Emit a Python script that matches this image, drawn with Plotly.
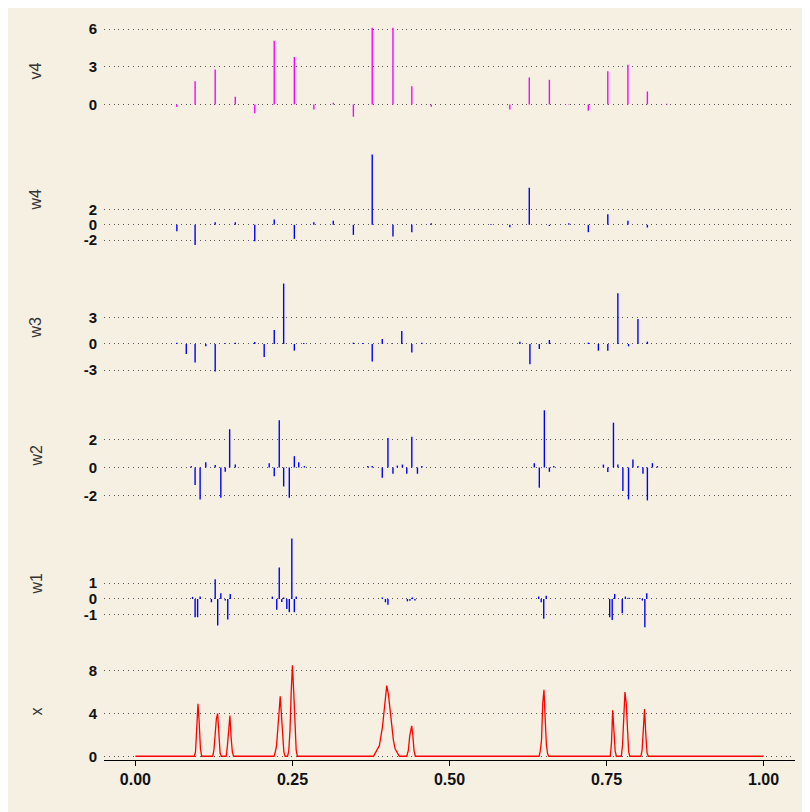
import plotly.graph_objects as go

# ---------------- data ----------------
V4_X = [0.066, 0.095, 0.127, 0.159, 0.190, 0.221, 0.253, 0.284, 0.315, 0.347, 0.377, 0.410,
        0.440, 0.471, 0.596, 0.627, 0.659, 0.690, 0.721, 0.752, 0.784, 0.815, 0.846]
V4_V = [-0.2, 1.85, 2.78, 0.61, -0.71, 5.07, 3.78, -0.4, 0.13, -0.98, 6.1, 6.1,
        1.45, -0.18, -0.4, 2.14, 1.96, -0.05, -0.5, 2.64, 3.15, 1.03, 0.05]

W4_X = [0.066, 0.095, 0.127, 0.159, 0.190, 0.221, 0.253, 0.284, 0.315, 0.347, 0.377, 0.410,
        0.440, 0.471, 0.566, 0.596, 0.627, 0.659, 0.690, 0.721, 0.752, 0.784, 0.815]
W4_V = [-0.83, -2.63, 0.35, 0.35, -2.15, 0.7, -1.84, 0.35, 0.53, -1.32, 9.25, -1.54,
        -0.96, 0.2, 0.1, -0.3, 4.87, -0.15, 0.2, -0.96, 1.4, 0.53, -0.35]

W3_X = [0.066, 0.081, 0.095, 0.112, 0.127, 0.143, 0.159, 0.190, 0.205, 0.221, 0.236, 0.253,
        0.268, 0.347, 0.362, 0.377, 0.393, 0.408, 0.424, 0.440, 0.456, 0.612, 0.628, 0.643,
        0.659, 0.721, 0.737, 0.752, 0.768, 0.785, 0.800, 0.815]
W3_V = [0.15, -1.15, -2.14, -0.27, -3.17, 0.08, 0.15, 0.23, -1.49, 1.6, 6.95, -0.77,
        0.1, 0.15, 0.1, -2.02, 0.57, 0.05, 1.49, -0.99, 0.15, 0.27, -2.33, -0.58,
        0.46, 0.15, -0.77, -0.77, 5.84, -0.27, 2.86, 0.27]

W2_X = [0.089, 0.095, 0.103, 0.112, 0.127, 0.136, 0.143, 0.150, 0.159,
        0.213, 0.221, 0.229, 0.236, 0.245, 0.253, 0.260, 0.269,
        0.370, 0.377, 0.393, 0.402, 0.410, 0.417, 0.425, 0.432, 0.440, 0.449, 0.456,
        0.635, 0.643, 0.651, 0.659, 0.666,
        0.745, 0.752, 0.761, 0.768, 0.776, 0.785, 0.792, 0.800, 0.808, 0.815, 0.823, 0.831]
W2_V = [0.1, -1.26, -2.29, 0.38, 0.17, -2.17, -0.31, 2.74, 0.21,
        0.31, -0.62, 3.38, -1.36, -2.17, 0.81, 0.38, 0.1,
        0.1, 0.1, -0.74, 2.12, -0.45, 0.14, 0.21, -0.45, 2.21, -0.45, 0.1,
        0.31, -1.45, 4.1, -0.31, 0.1,
        0.21, -0.33, 3.21, 0.21, -1.69, -2.29, 0.57, 0.1, -0.45, -2.36, 0.31, 0.1]

W1_X = [0.091, 0.095, 0.099, 0.103, 0.121, 0.127, 0.131, 0.136, 0.143, 0.147, 0.151,
        0.218, 0.225, 0.229, 0.233, 0.236, 0.241, 0.245, 0.249, 0.253, 0.256,
        0.393, 0.398, 0.402, 0.433, 0.437, 0.441, 0.445,
        0.642, 0.646, 0.650, 0.654,
        0.755, 0.759, 0.763, 0.775, 0.780, 0.786, 0.803, 0.807, 0.811, 0.814]
W1_V = [0.13, -1.16, -1.16, 0.15, -0.21, 1.26, -1.68, 0.36, -0.1, -1.3, 0.32,
        0.15, -0.69, 2.0, -0.2, 0.1, -0.63, -0.84, 3.85, -0.84, 0.15,
        0.1, -0.21, -0.36, -0.15, -0.12, 0.1, -0.1,
        0.15, -0.21, -1.26, 0.21,
        -1.16, -1.33, 0.32, -0.9, 0.15, 0.08, 0.06, -0.1, -1.79, 0.36]

X_T = [0.0, 0.0938, 0.0957, 0.0977, 0.0996, 0.1016, 0.1035, 0.1055,
       0.1230, 0.1250, 0.1270, 0.1289, 0.1309, 0.1328, 0.1348, 0.1367,
       0.1445, 0.1465, 0.1484, 0.1504, 0.1523, 0.1543, 0.1563,
       0.2207, 0.2227, 0.2246, 0.2266, 0.2285, 0.2305, 0.2324, 0.2344, 0.2363, 0.2383,
       0.2422, 0.2441, 0.2461, 0.2480, 0.2500, 0.2520, 0.2539, 0.2559, 0.2578,
       0.3789, 0.3842, 0.3884, 0.3906, 0.3932, 0.3954, 0.3975, 0.4001, 0.4027, 0.4054,
       0.4080, 0.4107, 0.4134, 0.4170, 0.4202,
       0.4319, 0.4345, 0.4366, 0.4387, 0.4398, 0.4414, 0.4435, 0.4456,
       0.6426, 0.6445, 0.6465, 0.6484, 0.6504, 0.6523, 0.6543, 0.6563, 0.6582,
       0.7559, 0.7578, 0.7598, 0.7617, 0.7637, 0.7656,
       0.7734, 0.7754, 0.7773, 0.7793, 0.7813, 0.7832, 0.7852, 0.7871,
       0.8047, 0.8066, 0.8086, 0.8105, 0.8125, 0.8145, 0.8164, 1.0]
X_V = [0.0, 0.0, 0.4, 2.7, 4.9, 3.1, 0.7, 0.0,
       0.0, 0.6, 2.0, 3.5, 4.0, 1.5, 0.3, 0.0,
       0.0, 1.0, 2.7, 3.8, 1.8, 0.4, 0.0,
       0.0, 0.4, 1.0, 2.5, 4.5, 5.6, 3.9, 1.6, 0.4, 0.0,
       0.0, 0.5, 2.4, 6.0, 8.5, 6.0, 2.4, 0.6, 0.0,
       0.0, 0.55, 1.0, 1.8, 2.7, 3.95, 5.5, 6.6, 5.8, 4.4,
       2.7, 1.5, 0.7, 0.25, 0.0,
       0.0, 0.55, 1.85, 2.55, 2.85, 2.1, 0.55, 0.0,
       0.0, 0.5, 1.5, 4.9, 6.2, 3.5, 1.0, 0.2, 0.0,
       0.0, 1.2, 4.3, 2.4, 0.5, 0.0,
       0.0, 1.0, 3.8, 6.0, 5.0, 1.8, 0.4, 0.0,
       0.0, 0.6, 3.2, 4.4, 2.0, 0.3, 0.0, 0.0]

LABELS = ["v4", "w4", "w3", "w2", "w1", "x"]
Y_TICKS = [[0, 3, 6], [-2, 0, 2], [-3, 0, 3], [-2, 0, 2], [-1, 0, 1], [0, 4, 8]]
X_TICKS = [0, 0.25, 0.5, 0.75, 1.0]
X_TICK_TEXT = ["0.00", "0.25", "0.50", "0.75", "1.00"]

# ---------------- styling / layout ----------------
BG = "#f6f0e3"
FONT = "Liberation Sans, Arial, sans-serif"
Y_RANGES = [[-1.25, 6.48], [-3.05, 9.70], [-3.69, 7.48], [-2.62, 4.34], [-2.10, 4.07], [-0.35, 8.72]]
COLORS = ["#ff00ff", "#0000ff", "#0000ff", "#0000ff", "#0000ff", "#ff0000"]

OFF = 8  # page body margin
TOP, BOT = 20.0, 760.0           # plot area in screenshot pixels
LEFT, RIGHT = 104.0, 795.0
H, STEP = 97.5, 128.5
SPAN = BOT - TOP
W, HT = 810, 812

fig = go.Figure()
bar_data = [(V4_X, V4_V), (W4_X, W4_V), (W3_X, W3_V), (W2_X, W2_V), (W1_X, W1_V)]

layout = dict(
    width=W, height=HT,
    paper_bgcolor=BG, plot_bgcolor=BG,
    margin=dict(l=LEFT - OFF, r=W + OFF - RIGHT, t=TOP - OFF, b=HT + OFF - BOT),
    showlegend=False,
    annotations=[],
)


def stems(xs, ys):
    sx, sy = [], []
    for x, y in zip(xs, ys):
        sx += [x, x, None]
        sy += [0, y, None]
    return sx, sy


for i in range(6):
    n = "" if i == 0 else str(i + 1)
    top_px = TOP + i * STEP
    bot_px = top_px + H
    dom = [(BOT - bot_px) / SPAN, (BOT - top_px) / SPAN]
    if i < 5:
        sx, sy = stems(*bar_data[i])
        fig.add_trace(go.Scatter(x=sx, y=sy, mode="lines",
                                 line=dict(color=COLORS[i], width=1.4),
                                 xaxis="x" + n, yaxis="y" + n))
    else:
        fig.add_trace(go.Scatter(x=X_T, y=X_V, mode="lines",
                                 line=dict(color=COLORS[i], width=1.3),
                                 xaxis="x" + n, yaxis="y" + n))
    bottom = (i == 5)
    layout["xaxis" + n] = dict(
        domain=[0, 1], anchor="y" + n, range=[-0.05, 1.05],
        showgrid=False, zeroline=False,
        visible=bottom,
        showline=bottom, linecolor="#000000", linewidth=1,
        ticks="outside" if bottom else "", ticklen=5, tickcolor="#000000",
        tickvals=X_TICKS, ticktext=X_TICK_TEXT,
        tickfont=dict(family=FONT, size=16, color="#111111", weight="bold"),
    )
    layout["yaxis" + n] = dict(
        domain=dom, anchor="x" + n, range=Y_RANGES[i],
        tickvals=Y_TICKS[i], ticktext=[str(v) for v in Y_TICKS[i]],
        showgrid=True, gridcolor="#555555", gridwidth=1,
        griddash="1px,3.8px", zeroline=False, showline=False, ticks="",
        ticklabelstandoff=6,
        tickfont=dict(family=FONT, size=15, color="#111111", weight="bold"),
    )
    layout["annotations"].append(dict(
        text=LABELS[i], xref="paper", yref="paper", x=(36 - LEFT) / (RIGHT - LEFT),
        y=(dom[0] + dom[1]) / 2,
        textangle=-90, showarrow=False, xanchor="center", yanchor="middle",
        font=dict(family=FONT, size=16, color="#333333"),
    ))

fig.update_layout(**layout)
fig.write_html("out.html")
